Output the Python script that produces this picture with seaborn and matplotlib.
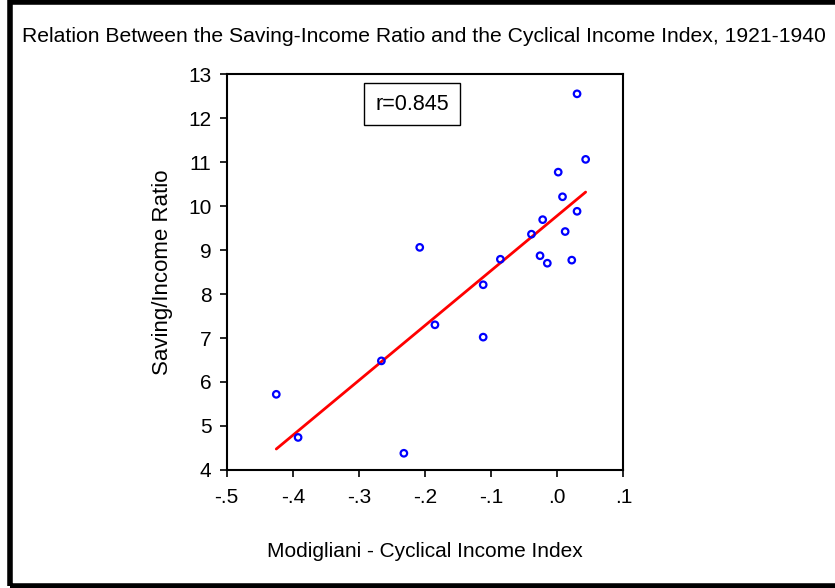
import matplotlib
matplotlib.use("Agg")
import matplotlib.pyplot as plt
from matplotlib.patches import Rectangle
from matplotlib.ticker import FuncFormatter
import numpy as np
import pandas as pd
import seaborn as sns

# Annual observations, 1921-1940
years = list(range(1921, 1941))
cyclical_index = [-0.425, -0.392, -0.232, -0.266, -0.208, -0.185, -0.112, -0.112,
                  -0.086, -0.039, -0.022, -0.026, -0.015, 0.0015, 0.008, 0.012,
                  0.022, 0.030, 0.030, 0.043]
saving_ratio = [5.72, 4.74, 4.38, 6.48, 9.06, 7.30, 8.21, 7.02,
                8.79, 9.36, 9.69, 8.87, 8.70, 10.77, 10.21, 9.42,
                8.77, 9.88, 12.55, 11.06]
x_ticks = [-0.5, -0.4, -0.3, -0.2, -0.1, 0.0, 0.1]
y_ticks = list(range(4, 14))

df = pd.DataFrame({"year": years, "index": cyclical_index, "ratio": saving_ratio})

sns.set_theme(style="ticks")
plt.rcParams["font.family"] = ["Liberation Sans", "DejaVu Sans"]
plt.rcParams["text.color"] = "black"
plt.rcParams["axes.labelcolor"] = "black"

fig = plt.figure(figsize=(8.35, 5.88), dpi=100)
ax = fig.add_axes([0.2715, 0.2007, 0.475, 0.6734])

sns.regplot(data=df, x="index", y="ratio", ax=ax, scatter=False, ci=None,
            truncate=True, line_kws={"color": "#ff0000", "lw": 2.0})
sns.scatterplot(data=df, x="index", y="ratio", ax=ax, marker="o", s=22,
                facecolors="none", edgecolor="#0000ff", linewidth=1.6, zorder=3)

ax.set_xlim(-0.5, 0.1)
ax.set_ylim(4, 13)
ax.set_xticks(x_ticks)
ax.set_yticks(y_ticks)
ax.xaxis.set_major_formatter(FuncFormatter(
    lambda v, p: ("-" if v < -1e-9 else "") + ("%.1f" % abs(v)).lstrip("0")))
ax.tick_params(direction="out", length=5, width=1.2, labelsize=15,
               colors="black", labelcolor="black")
ax.tick_params(axis="x", pad=8)
ax.tick_params(axis="y", pad=6)

for s in ax.spines.values():
    s.set_visible(True)
    s.set_color("black")
    s.set_linewidth(1.5)

ax.set_xlabel("Modigliani - Cyclical Income Index", fontsize=15, labelpad=25)
ax.set_ylabel("Saving/Income Ratio", fontsize=16, labelpad=11)

ax.text(0.467, 0.924, "r=0.845", transform=ax.transAxes, ha="center", va="center",
        fontsize=15.5,
        bbox=dict(boxstyle="square,pad=0.5", facecolor="white",
                  edgecolor="black", linewidth=1.0))

fig.text(22 / 835, 1 - 37 / 588, "Relation Between the Saving-Income Ratio and the Cyclical Income Index, 1921-1940",
         ha="left", va="center", fontsize=15.2)

# outer frame
fig.patches.append(Rectangle((10 / 835, 2 / 588), 1.2, 1 - 3.5 / 588,
                             transform=fig.transFigure, fill=False,
                             edgecolor="black", linewidth=4, zorder=10))

fig.savefig("out.png", dpi=100)
